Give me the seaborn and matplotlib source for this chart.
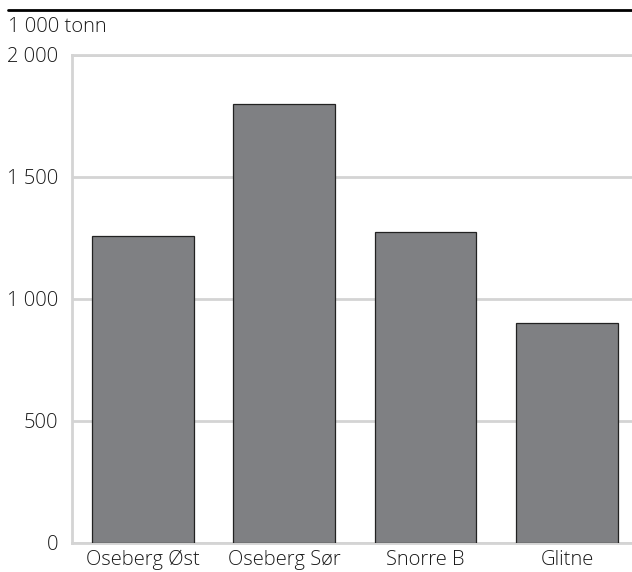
import matplotlib
matplotlib.use("Agg")
import matplotlib.pyplot as plt
import seaborn as sns
import pandas as pd
from matplotlib.lines import Line2D

# Data
fields = ["Oseberg Øst", "Oseberg Sør", "Snorre B", "Glitne"]
values = [1258, 1800, 1275, 900]
yticks = [0, 500, 1000, 1500, 2000]
ytick_labels = ["0", "500", "1 000", "1 500", "2 000"]

df = pd.DataFrame({"field": fields, "value": values})

sns.set_style("white")
plt.rcParams["font.family"] = ["Open Sans", "DejaVu Sans"]
plt.rcParams["font.weight"] = "light"

fig = plt.figure(figsize=(6.32, 5.72), dpi=100)
ax = fig.add_axes([72 / 632, 1 - 543 / 572, (632 - 72) / 632, (543 - 55) / 572])

sns.barplot(data=df, x="field", y="value", color="#7f8083", saturation=1,
            width=0.72, edgecolor="#222222", linewidth=0.9, ax=ax, zorder=3)

ax.set_ylim(0, 2000)
ax.set_xlim(-0.5, 3.46)
ax.set_yticks(yticks)
ax.set_yticklabels(ytick_labels)
ax.yaxis.grid(True, color="#d4d4d4", linewidth=2, zorder=0)
ax.set_xlabel("")
ax.set_ylabel("")
ax.tick_params(axis="both", length=0, labelsize=14.5, colors="#1a1a1a")
ax.tick_params(axis="y", pad=10)
ax.tick_params(axis="x", pad=5)

ax.spines["right"].set_visible(False)
for side in ["left", "bottom", "top"]:
    ax.spines[side].set_color("#d4d4d4")
    ax.spines[side].set_linewidth(2)

# Unit label and top rule
fig.text(8 / 632, 1 - 27 / 572, "1 000 tonn", fontsize=14.5, color="#1a1a1a",
         va="center", ha="left")
fig.add_artist(Line2D([8 / 632, 1.0], [1 - 10 / 572, 1 - 10 / 572],
                      color="black", linewidth=2, transform=fig.transFigure))

fig.savefig("out.png", dpi=100)
